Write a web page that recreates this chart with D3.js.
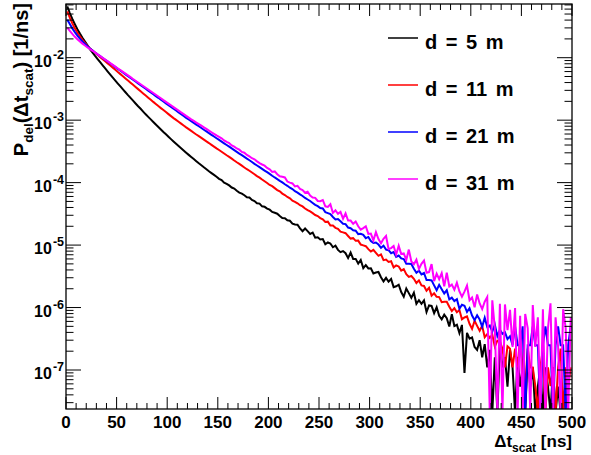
<!DOCTYPE html>
<html>
<head>
<meta charset="utf-8">
<script src="https://cdn.jsdelivr.net/npm/d3@7"></script>
<style>
  html, body { margin: 0; padding: 0; background: #fff; }
  svg { display: block; font-family: "Liberation Sans", Arial, Helvetica, sans-serif; font-weight: bold; }
  text { white-space: pre; }
</style>
</head>
<body>
<svg id="chart" width="591" height="455"></svg>
<script>
// Delay-time distributions P_del(Δt_scat), histogrammed in 2.5 ns bins from 0 to 500 ns.
const binWidth = 2.5;
const tRange = [0, 500];

const seriesLabels = ["d = 5 m", "d = 11 m", "d = 21 m", "d = 31 m"];

const pDel5m = [
  6.61e-2,5.19e-2,4.17e-2,3.43e-2,2.85e-2,2.43e-2,2.09e-2,1.82e-2,1.58e-2,1.36e-2,
  1.21e-2,1.07e-2,9.53e-3,8.47e-3,7.55e-3,6.73e-3,6.01e-3,5.37e-3,4.81e-3,4.31e-3,
  3.86e-3,3.47e-3,3.11e-3,2.80e-3,2.52e-3,2.28e-3,2.05e-3,1.85e-3,1.67e-3,1.52e-3,
  1.37e-3,1.24e-3,1.13e-3,1.03e-3,9.35e-4,8.51e-4,7.76e-4,7.10e-4,6.47e-4,5.93e-4,
  5.42e-4,4.97e-4,4.56e-4,4.19e-4,3.85e-4,3.55e-4,3.27e-4,3.01e-4,2.78e-4,2.57e-4,
  2.38e-4,2.20e-4,2.04e-4,1.90e-4,1.76e-4,1.64e-4,1.52e-4,1.42e-4,1.33e-4,1.24e-4,
  1.15e-4,1.10e-4,9.98e-5,9.57e-5,9.02e-5,8.34e-5,8.02e-5,7.41e-5,6.93e-5,6.67e-5,
  6.28e-5,5.83e-5,5.77e-5,5.27e-5,5.07e-5,4.68e-5,4.62e-5,4.17e-5,4.10e-5,3.84e-5,
  3.69e-5,3.40e-5,3.29e-5,3.18e-5,2.92e-5,2.72e-5,2.69e-5,2.50e-5,2.45e-5,2.21e-5,
  2.14e-5,2.12e-5,1.85e-5,1.67e-5,1.84e-5,1.67e-5,1.51e-5,1.58e-5,1.31e-5,1.33e-5,
  1.23e-5,1.25e-5,1.03e-5,1.10e-5,1.06e-5,9.23e-6,9.77e-6,8.38e-6,7.71e-6,8.02e-6,
  7.40e-6,6.19e-6,7.60e-6,6.00e-6,6.01e-6,5.06e-6,5.77e-6,4.27e-6,4.79e-6,4.23e-6,
  4.24e-6,3.51e-6,3.63e-6,3.71e-6,3.06e-6,2.62e-6,2.99e-6,2.59e-6,2.86e-6,2.12e-6,
  2.19e-6,2.32e-6,1.77e-6,1.49e-6,2.02e-6,1.70e-6,1.43e-6,1.73e-6,1.15e-6,1.31e-6,
  1.15e-6,1.30e-6,8.47e-7,1.08e-6,1.06e-6,8.13e-7,1.01e-6,7.38e-7,6.49e-7,7.69e-7,
  6.76e-7,4.97e-7,7.83e-7,5.06e-7,5.30e-7,3.89e-7,5.27e-7,9.0e-8,3.93e-7,3.18e-7,
  3.33e-7,2.34e-7,2.1e-7,3.0e-7,1.6e-7,2.6e-7,1.1e-7,2.1e-7,0,1.6e-7,
  0,2.6e-7,1.1e-7,1.6e-7,5.4e-8,2.1e-7,1.1e-7,0,1.6e-7,5.4e-8,
  1.1e-7,0,1.6e-7,5.4e-8,1.1e-7,0,5.4e-8,1.1e-7,0,1.1e-7,
  5.4e-8,0,1.1e-7,0,5.4e-8,0,0,5.4e-8,0,0
];

const pDel11m = [
  5.50e-2,4.37e-2,3.55e-2,2.95e-2,2.51e-2,2.19e-2,1.93e-2,1.72e-2,1.55e-2,1.41e-2,
  1.30e-2,1.20e-2,1.11e-2,1.02e-2,9.46e-3,8.75e-3,8.09e-3,7.48e-3,6.92e-3,6.40e-3,
  5.90e-3,5.46e-3,5.05e-3,4.66e-3,4.31e-3,3.98e-3,3.68e-3,3.40e-3,3.14e-3,2.90e-3,
  2.68e-3,2.48e-3,2.29e-3,2.12e-3,1.96e-3,1.82e-3,1.68e-3,1.56e-3,1.45e-3,1.35e-3,
  1.25e-3,1.16e-3,1.08e-3,1.01e-3,9.42e-4,8.79e-4,8.22e-4,7.67e-4,7.18e-4,6.73e-4,
  6.30e-4,5.90e-4,5.55e-4,5.20e-4,4.88e-4,4.57e-4,4.30e-4,4.03e-4,3.78e-4,3.54e-4,
  3.33e-4,3.12e-4,2.92e-4,2.74e-4,2.58e-4,2.42e-4,2.26e-4,2.12e-4,2.00e-4,1.87e-4,
  1.75e-4,1.64e-4,1.55e-4,1.45e-4,1.36e-4,1.27e-4,1.20e-4,1.12e-4,1.05e-4,9.86e-5,
  9.16e-5,8.77e-5,8.17e-5,7.60e-5,7.26e-5,6.67e-5,6.32e-5,5.90e-5,5.61e-5,5.14e-5,
  4.93e-5,4.67e-5,4.35e-5,4.16e-5,3.85e-5,3.62e-5,3.46e-5,3.25e-5,3.03e-5,2.92e-5,
  2.71e-5,2.59e-5,2.34e-5,2.37e-5,2.05e-5,2.05e-5,1.89e-5,1.82e-5,1.64e-5,1.60e-5,
  1.55e-5,1.40e-5,1.27e-5,1.29e-5,1.17e-5,1.18e-5,1.02e-5,9.91e-6,9.59e-6,8.61e-6,
  7.87e-6,8.39e-6,7.52e-6,6.73e-6,7.11e-6,5.73e-6,5.86e-6,5.37e-6,5.50e-6,4.39e-6,
  4.72e-6,4.55e-6,3.91e-6,4.12e-6,3.42e-6,3.10e-6,3.20e-6,2.88e-6,2.47e-6,2.72e-6,
  2.26e-6,2.22e-6,1.86e-6,2.07e-6,1.55e-6,1.69e-6,1.49e-6,1.47e-6,1.22e-6,1.24e-6,
  1.24e-6,1.03e-6,8.77e-7,9.77e-7,8.43e-7,9.14e-7,6.49e-7,6.93e-7,7.24e-7,5.50e-7,
  4.56e-7,6.14e-7,5.09e-7,4.24e-7,5.08e-7,3.35e-7,3.75e-7,3.27e-7,3.66e-7,2.36e-7,
  2.96e-7,2.89e-7,2.19e-7,1.1e-7,2.4e-7,2.2e-7,1.1e-7,2.2e-7,1.1e-7,3.3e-7,
  1.1e-7,5.5e-8,2.2e-7,1.1e-7,1.1e-7,5.5e-8,0,1.1e-7,2.2e-7,0,
  1.1e-7,5.5e-8,1.1e-7,0,1.1e-7,2.2e-7,0,1.1e-7,5.5e-8,1.1e-7
];

const pDel21m = [
  4.07e-2,3.47e-2,2.95e-2,2.57e-2,2.26e-2,2.02e-2,1.82e-2,1.66e-2,1.52e-2,1.40e-2,
  1.30e-2,1.21e-2,1.13e-2,1.06e-2,9.89e-3,9.25e-3,8.65e-3,8.09e-3,7.57e-3,7.08e-3,
  6.62e-3,6.19e-3,5.79e-3,5.42e-3,5.07e-3,4.74e-3,4.44e-3,4.15e-3,3.88e-3,3.63e-3,
  3.40e-3,3.18e-3,2.97e-3,2.78e-3,2.60e-3,2.43e-3,2.28e-3,2.13e-3,1.99e-3,1.86e-3,
  1.74e-3,1.63e-3,1.52e-3,1.43e-3,1.33e-3,1.25e-3,1.17e-3,1.09e-3,1.03e-3,9.64e-4,
  9.04e-4,8.49e-4,7.98e-4,7.50e-4,7.03e-4,6.61e-4,6.21e-4,5.83e-4,5.47e-4,5.14e-4,
  4.83e-4,4.54e-4,4.26e-4,4.00e-4,3.76e-4,3.53e-4,3.31e-4,3.11e-4,2.92e-4,2.75e-4,
  2.58e-4,2.42e-4,2.28e-4,2.14e-4,2.00e-4,1.88e-4,1.77e-4,1.66e-4,1.56e-4,1.47e-4,
  1.38e-4,1.29e-4,1.21e-4,1.14e-4,1.07e-4,1.01e-4,9.42e-5,8.89e-5,8.28e-5,7.89e-5,
  7.28e-5,6.92e-5,6.47e-5,6.11e-5,5.68e-5,5.37e-5,5.08e-5,4.73e-5,4.41e-5,4.20e-5,
  3.92e-5,3.85e-5,3.37e-5,3.25e-5,3.13e-5,2.82e-5,2.58e-5,2.61e-5,2.40e-5,2.20e-5,
  2.17e-5,1.91e-5,1.86e-5,1.73e-5,1.70e-5,1.50e-5,1.52e-5,1.46e-5,1.29e-5,1.35e-5,
  1.16e-5,1.08e-5,1.10e-5,1.02e-5,9.06e-6,9.75e-6,8.45e-6,8.28e-6,7.40e-6,7.71e-6,
  6.47e-6,6.79e-6,6.11e-6,5.97e-6,5.01e-6,5.02e-6,4.98e-6,4.18e-6,3.60e-6,3.89e-6,
  3.39e-6,3.57e-6,2.75e-6,2.75e-6,2.72e-6,2.26e-6,1.89e-6,2.31e-6,1.97e-6,1.68e-6,
  1.89e-6,1.35e-6,1.44e-6,1.27e-6,1.36e-6,9.57e-7,1.11e-6,1.07e-6,8.51e-7,9.73e-7,
  7.46e-7,6.28e-7,7.52e-7,6.47e-7,4.91e-7,6.84e-7,4.88e-7,5.15e-7,4.12e-7,5.33e-7,
  3.48e-7,4.40e-7,3.79e-7,4.01e-7,3.13e-7,3.48e-7,2.5e-7,5.0e-7,2.5e-7,2.5e-7,
  5.0e-7,0,2.5e-7,2.5e-7,5.0e-7,2.5e-7,2.5e-7,0,2.5e-7,5.0e-7,
  2.5e-7,2.5e-7,0,2.5e-7,5.0e-7,2.5e-7,2.5e-7,0,2.5e-7,5.0e-7
];

const pDel31m = [
  3.02e-2,2.69e-2,2.40e-2,2.16e-2,1.97e-2,1.82e-2,1.68e-2,1.57e-2,1.46e-2,1.37e-2,
  1.29e-2,1.21e-2,1.13e-2,1.06e-2,9.93e-3,9.31e-3,8.73e-3,8.18e-3,7.67e-3,7.19e-3,
  6.73e-3,6.31e-3,5.92e-3,5.55e-3,5.20e-3,4.88e-3,4.56e-3,4.28e-3,4.01e-3,3.76e-3,
  3.52e-3,3.30e-3,3.09e-3,2.90e-3,2.72e-3,2.55e-3,2.39e-3,2.24e-3,2.09e-3,1.96e-3,
  1.84e-3,1.73e-3,1.62e-3,1.52e-3,1.42e-3,1.33e-3,1.25e-3,1.17e-3,1.10e-3,1.03e-3,
  9.73e-4,9.16e-4,8.63e-4,8.15e-4,7.67e-4,7.23e-4,6.81e-4,6.41e-4,6.04e-4,5.69e-4,
  5.40e-4,5.12e-4,4.74e-4,4.48e-4,4.30e-4,3.94e-4,3.77e-4,3.52e-4,3.37e-4,3.10e-4,
  3.01e-4,2.77e-4,2.63e-4,2.46e-4,2.36e-4,2.19e-4,2.05e-4,1.95e-4,1.87e-4,1.72e-4,
  1.63e-4,1.48e-4,1.51e-4,1.36e-4,1.26e-4,1.24e-4,1.21e-4,1.04e-4,1.00e-4,9.70e-5,
  8.69e-5,8.87e-5,7.93e-5,7.60e-5,6.89e-5,7.13e-5,6.19e-5,5.78e-5,5.71e-5,5.08e-5,
  5.05e-5,5.27e-5,4.17e-5,4.08e-5,4.50e-5,3.27e-5,3.60e-5,3.17e-5,3.40e-5,2.65e-5,
  3.21e-5,2.47e-5,2.47e-5,2.19e-5,2.38e-5,2.00e-5,1.77e-5,1.87e-5,2.00e-5,1.51e-5,
  1.53e-5,1.19e-5,1.61e-5,1.25e-5,1.07e-5,1.26e-5,1.40e-5,8.63e-6,8.95e-6,9.66e-6,
  7.08e-6,9.75e-6,7.19e-6,7.36e-6,5.79e-6,8.47e-6,5.46e-6,4.94e-6,5.83e-6,4.14e-6,
  5.01e-6,5.65e-6,3.61e-6,3.70e-6,4.95e-6,2.64e-6,3.49e-6,2.84e-6,3.56e-6,2.19e-6,
  3.62e-6,2.17e-6,2.33e-6,1.93e-6,2.49e-6,1.81e-6,1.49e-6,1.80e-6,2.25e-6,1.31e-6,
  1.45e-6,1.01e-6,1.62e-6,1.16e-6,9.48e-7,1.24e-6,1.47e-6,0,1.31e-6,4.6e-7,
  0,1.15e-6,0,1.12e-6,4.34e-7,9.16e-7,2.35e-7,9.8e-7,0,7.4e-7,
  0,7.9e-7,4.7e-7,0,1.1e-6,2.35e-7,7.0e-7,0,9.4e-7,0,
  4.7e-7,1.17e-6,0,7.0e-7,2.35e-7,0,9.4e-7,4.7e-7,0,7.0e-7
];

const xTickValues = [0, 50, 100, 150, 200, 250, 300, 350, 400, 450, 500];
const yDecadeExponents = [-7, -6, -5, -4, -3, -2];

// ---- layout ----
const frame = { left: 66, right: 572, top: 4, bottom: 409 };
const seriesColors = ["#000000", "#ff0000", "#0000ff", "#ff00ff"];

const svg = d3.select("#chart");

const x = d3.scaleLinear().domain(tRange).range([frame.left, frame.right]);
const y = d3.scaleLog().domain([2.375e-8, 0.0724]).range([frame.bottom, frame.top]);

svg.append("defs").append("clipPath").attr("id", "plotClip")
  .append("rect")
  .attr("x", frame.left).attr("y", frame.top)
  .attr("width", frame.right - frame.left).attr("height", frame.bottom - frame.top);

// ---- histograms ----
const series = [pDel5m, pDel11m, pDel21m, pDel31m].map((values, i) => ({
  label: seriesLabels[i], values, color: seriesColors[i]
}));

// empty bins drop to the bottom of the frame, as on a log axis
const histLine = d3.line()
  .x((v, i) => x(binWidth * (i + 0.5)))
  .y(v => v > 0 ? y(v) : frame.bottom + 4);

const curves = svg.append("g").attr("clip-path", "url(#plotClip)");
series.forEach(s => {
  curves.append("path")
    .datum(s.values)
    .attr("d", histLine)
    .attr("fill", "none")
    .attr("stroke", s.color)
    .attr("stroke-width", 2)
    .attr("stroke-linejoin", "miter");
});

// ---- frame and ticks (all four sides) ----
const axes = svg.append("g").attr("stroke", "#000").attr("fill", "none");
axes.append("rect")
  .attr("x", frame.left).attr("y", frame.top)
  .attr("width", frame.right - frame.left).attr("height", frame.bottom - frame.top)
  .attr("stroke-width", 1.3);

const xMinor = d3.range(tRange[0], tRange[1] + 1, 10).filter(t => !xTickValues.includes(t));
const xMajLen = 12, xMinLen = 6;
function xTick(t, len) {
  const px = x(t);
  axes.append("line").attr("x1", px).attr("x2", px).attr("y1", frame.bottom).attr("y2", frame.bottom - len);
  axes.append("line").attr("x1", px).attr("x2", px).attr("y1", frame.top).attr("y2", frame.top + len);
}
xTickValues.forEach(t => xTick(t, xMajLen));
xMinor.forEach(t => xTick(t, xMinLen));

const yMajLen = 15, yMinLen = 7.5;
const [yLo, yHi] = y.domain();
const yMinor = [];
d3.range(-8, -1).forEach(e => {
  d3.range(2, 10).forEach(m => {
    const v = m * Math.pow(10, e);
    if (v > yLo && v < yHi) yMinor.push(v);
  });
});
function yTick(v, len) {
  const py = y(v);
  axes.append("line").attr("x1", frame.left).attr("x2", frame.left + len).attr("y1", py).attr("y2", py);
  axes.append("line").attr("x1", frame.right).attr("x2", frame.right - len).attr("y1", py).attr("y2", py);
}
yDecadeExponents.forEach(e => yTick(Math.pow(10, e), yMajLen));
yMinor.forEach(v => yTick(v, yMinLen));

// ---- tick labels ----
svg.append("g").selectAll("text")
  .data(xTickValues).join("text")
  .attr("x", d => x(d)).attr("y", 428)
  .attr("text-anchor", "middle")
  .style("font-size", "17px")
  .text(d => d);

const yLab = svg.append("g").selectAll("text")
  .data(yDecadeExponents).join("text")
  .attr("x", 64).attr("y", d => y(Math.pow(10, d)) + 9)
  .attr("text-anchor", "end")
  .style("font-size", "16px");
yLab.append("tspan").text("10");
yLab.append("tspan").attr("dy", -8).attr("dx", 1).style("font-size", "12.5px").text(d => String(d));

// ---- axis titles ----
const xTitle = svg.append("text")
  .attr("x", frame.right).attr("y", 447)
  .attr("text-anchor", "end").style("font-size", "17px");
xTitle.append("tspan").text("Δt");
xTitle.append("tspan").attr("dy", 5).style("font-size", "12px").text("scat");
xTitle.append("tspan").attr("dy", -5).text(" [ns]");

const yTitle = svg.append("text")
  .attr("transform", "translate(28,3) rotate(-90)")
  .attr("text-anchor", "end").style("font-size", "20px");
yTitle.append("tspan").text("P");
yTitle.append("tspan").attr("dy", 5).style("font-size", "13.5px").text("del");
yTitle.append("tspan").attr("dy", -5).text("(Δt");
yTitle.append("tspan").attr("dy", 5).style("font-size", "13.5px").text("scat");
yTitle.append("tspan").attr("dy", -5).text(") [1/ns]");

// ---- legend ----
const legend = svg.append("g");
series.forEach((s, i) => {
  const ly = 38 + i * 47;
  legend.append("line")
    .attr("x1", 388).attr("x2", 418).attr("y1", ly).attr("y2", ly)
    .attr("stroke", s.color).attr("stroke-width", 1.5);
  legend.append("text")
    .attr("x", 425).attr("y", ly + 11)
    .style("font-size", "20px").style("word-spacing", "3px")
    .text(s.label);
});
</script>
</body>
</html>
